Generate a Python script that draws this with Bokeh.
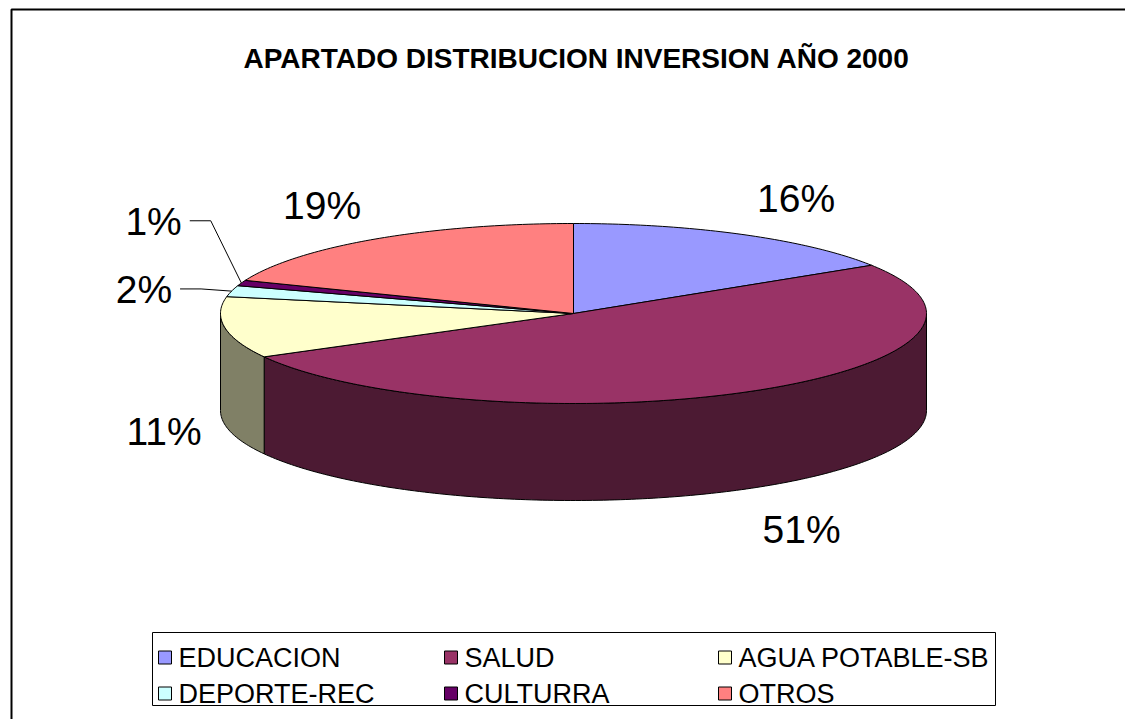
import numpy as np
from bokeh.plotting import figure
from bokeh.models import Range1d
from bokeh.core.properties import value
from bokeh.embed import file_html
from bokeh.resources import INLINE

# ---------------- data ----------------
categories = ["EDUCACION", "SALUD", "AGUA POTABLE-SB", "DEPORTE-REC", "CULTURRA", "OTROS"]
values = [16, 51, 11, 2, 1, 19]
top_colors = ["#9999FF", "#993366", "#FFFFCC", "#CCFFFF", "#660066", "#FF8080"]
side_colors = ["#4C4C80", "#4C1A33", "#808066", "#668080", "#330033", "#804040"]
title = "APARTADO DISTRIBUCION  INVERSION AÑO 2000"

# ---------------- layout / style ----------------
W, H = 1125, 719
CX, CY, RX, RY, DEPTH = 573.0, 313.0, 353.0, 90.0, 97.0
FONT = "Liberation Sans"
LABEL_FS = 39
LEG_FS = 27
# label placement: radial offsets + per-label nudges (pixels)
LAB_OX, LAB_OY = 105, 45
label_nudge = [(2, 3), (-5, 3), (43, 0), (14, 10), (11, -46), (6, 4)]
leader_for = [3, 4]  # slices with leader lines

p = figure(width=W, height=H, x_range=Range1d(0, W), y_range=Range1d(H, 0),
           output_backend="svg", toolbar_location=None, min_border=0,
           x_axis_type=None, y_axis_type=None)
p.grid.visible = False
p.outline_line_color = None
p.background_fill_color = "white"
p.border_fill_color = "white"

# chart border (extends beyond visible area at right/bottom)
p.line(x=[11, 11, 1300], y=[900, 9, 9], line_color="black", line_width=2)

total = float(sum(values))
cum = np.concatenate([[0.0], np.cumsum(values)]) / total * 2 * np.pi


def ell(t, dy=0.0):
    return CX + RX * np.sin(t), CY - RY * np.cos(t) + dy


# ---- side walls (front half: pi/2 .. 3pi/2) ----
sx, sy, sc = [], [], []
for i in range(len(values)):
    a0, a1 = cum[i], cum[i + 1]
    s, e = max(a0, np.pi / 2), min(a1, 3 * np.pi / 2)
    if e > s:
        t = np.linspace(s, e, max(4, int((e - s) / (2 * np.pi) * 400)))
        xt, yt = ell(t)
        xb, yb = ell(t[::-1], DEPTH)
        sx.append(list(xt) + list(xb))
        sy.append(list(yt) + list(yb))
        sc.append(side_colors[i])
p.patches(xs=sx, ys=sy, fill_color=sc, line_color="black", line_width=1)

# ---- top wedges ----
tx, ty = [], []
for i in range(len(values)):
    a0, a1 = cum[i], cum[i + 1]
    t = np.linspace(a0, a1, max(4, int((a1 - a0) / (2 * np.pi) * 400)))
    xt, yt = ell(t)
    tx.append([CX] + list(xt))
    ty.append([CY] + list(yt))
p.patches(xs=tx, ys=ty, fill_color=top_colors, line_color="black", line_width=1)

# ---- data labels ----
lx, ly, lt = [], [], []
leaders_x, leaders_y = [], []
for i, v in enumerate(values):
    tm = (cum[i] + cum[i + 1]) / 2
    x = CX + np.sin(tm) * (RX + LAB_OX) + label_nudge[i][0]
    y = CY - np.cos(tm) * (RY + LAB_OY) + (DEPTH if np.cos(tm) < 0 else 0) + label_nudge[i][1]
    txt = f"{v}%"
    lx.append(x)
    ly.append(y)
    lt.append(txt)
    if i in leader_for:
        half = (0.556 * (len(txt) - 1) + 0.889) * LABEL_FS / 2
        x_start = x + half + 8
        ex, ey = ell(tm)
        leaders_x.append([x_start, x_start + 21, ex])
        leaders_y.append([y - 1, y - 1, ey])
p.multi_line(xs=leaders_x, ys=leaders_y, line_color="black", line_width=1)
p.text(x=lx, y=ly, text=lt, text_font=value(FONT), text_font_size=f"{LABEL_FS}px",
       text_align="center", text_baseline="middle", text_color="black")

# ---- title ----
p.text(x=[580], y=[58], text=[title], text_font=value(FONT), text_font_size="28px",
       text_font_style="bold", text_align="center", text_baseline="middle", text_color="black")

# ---- legend ----
LEG_L, LEG_R, LEG_T, LEG_B = 152, 995, 632, 705
p.quad(left=[LEG_L], right=[LEG_R], top=[LEG_T], bottom=[LEG_B], fill_color=None,
       line_color="black", line_width=1)
col_x = [158, 444, 718]
row_y = [657, 693]
SQ = 13
lgx, lgy, lgt = [], [], []
qx, qy = [], []
for i, c in enumerate(categories):
    cxl = col_x[i % 3]
    ry_ = row_y[i // 3]
    qx.append(cxl + SQ / 2)
    qy.append(ry_)
    lgx.append(cxl + SQ + 7)
    lgy.append(ry_)
    lgt.append(c)
p.rect(x=qx, y=qy, width=SQ, height=SQ, fill_color=top_colors, line_color="black", line_width=1)
p.text(x=lgx, y=lgy, text=lgt, text_font=value(FONT), text_font_size=f"{LEG_FS}px",
       text_align="left", text_baseline="middle", text_color="black")

open("out.html", "w").write(file_html(p, INLINE))
